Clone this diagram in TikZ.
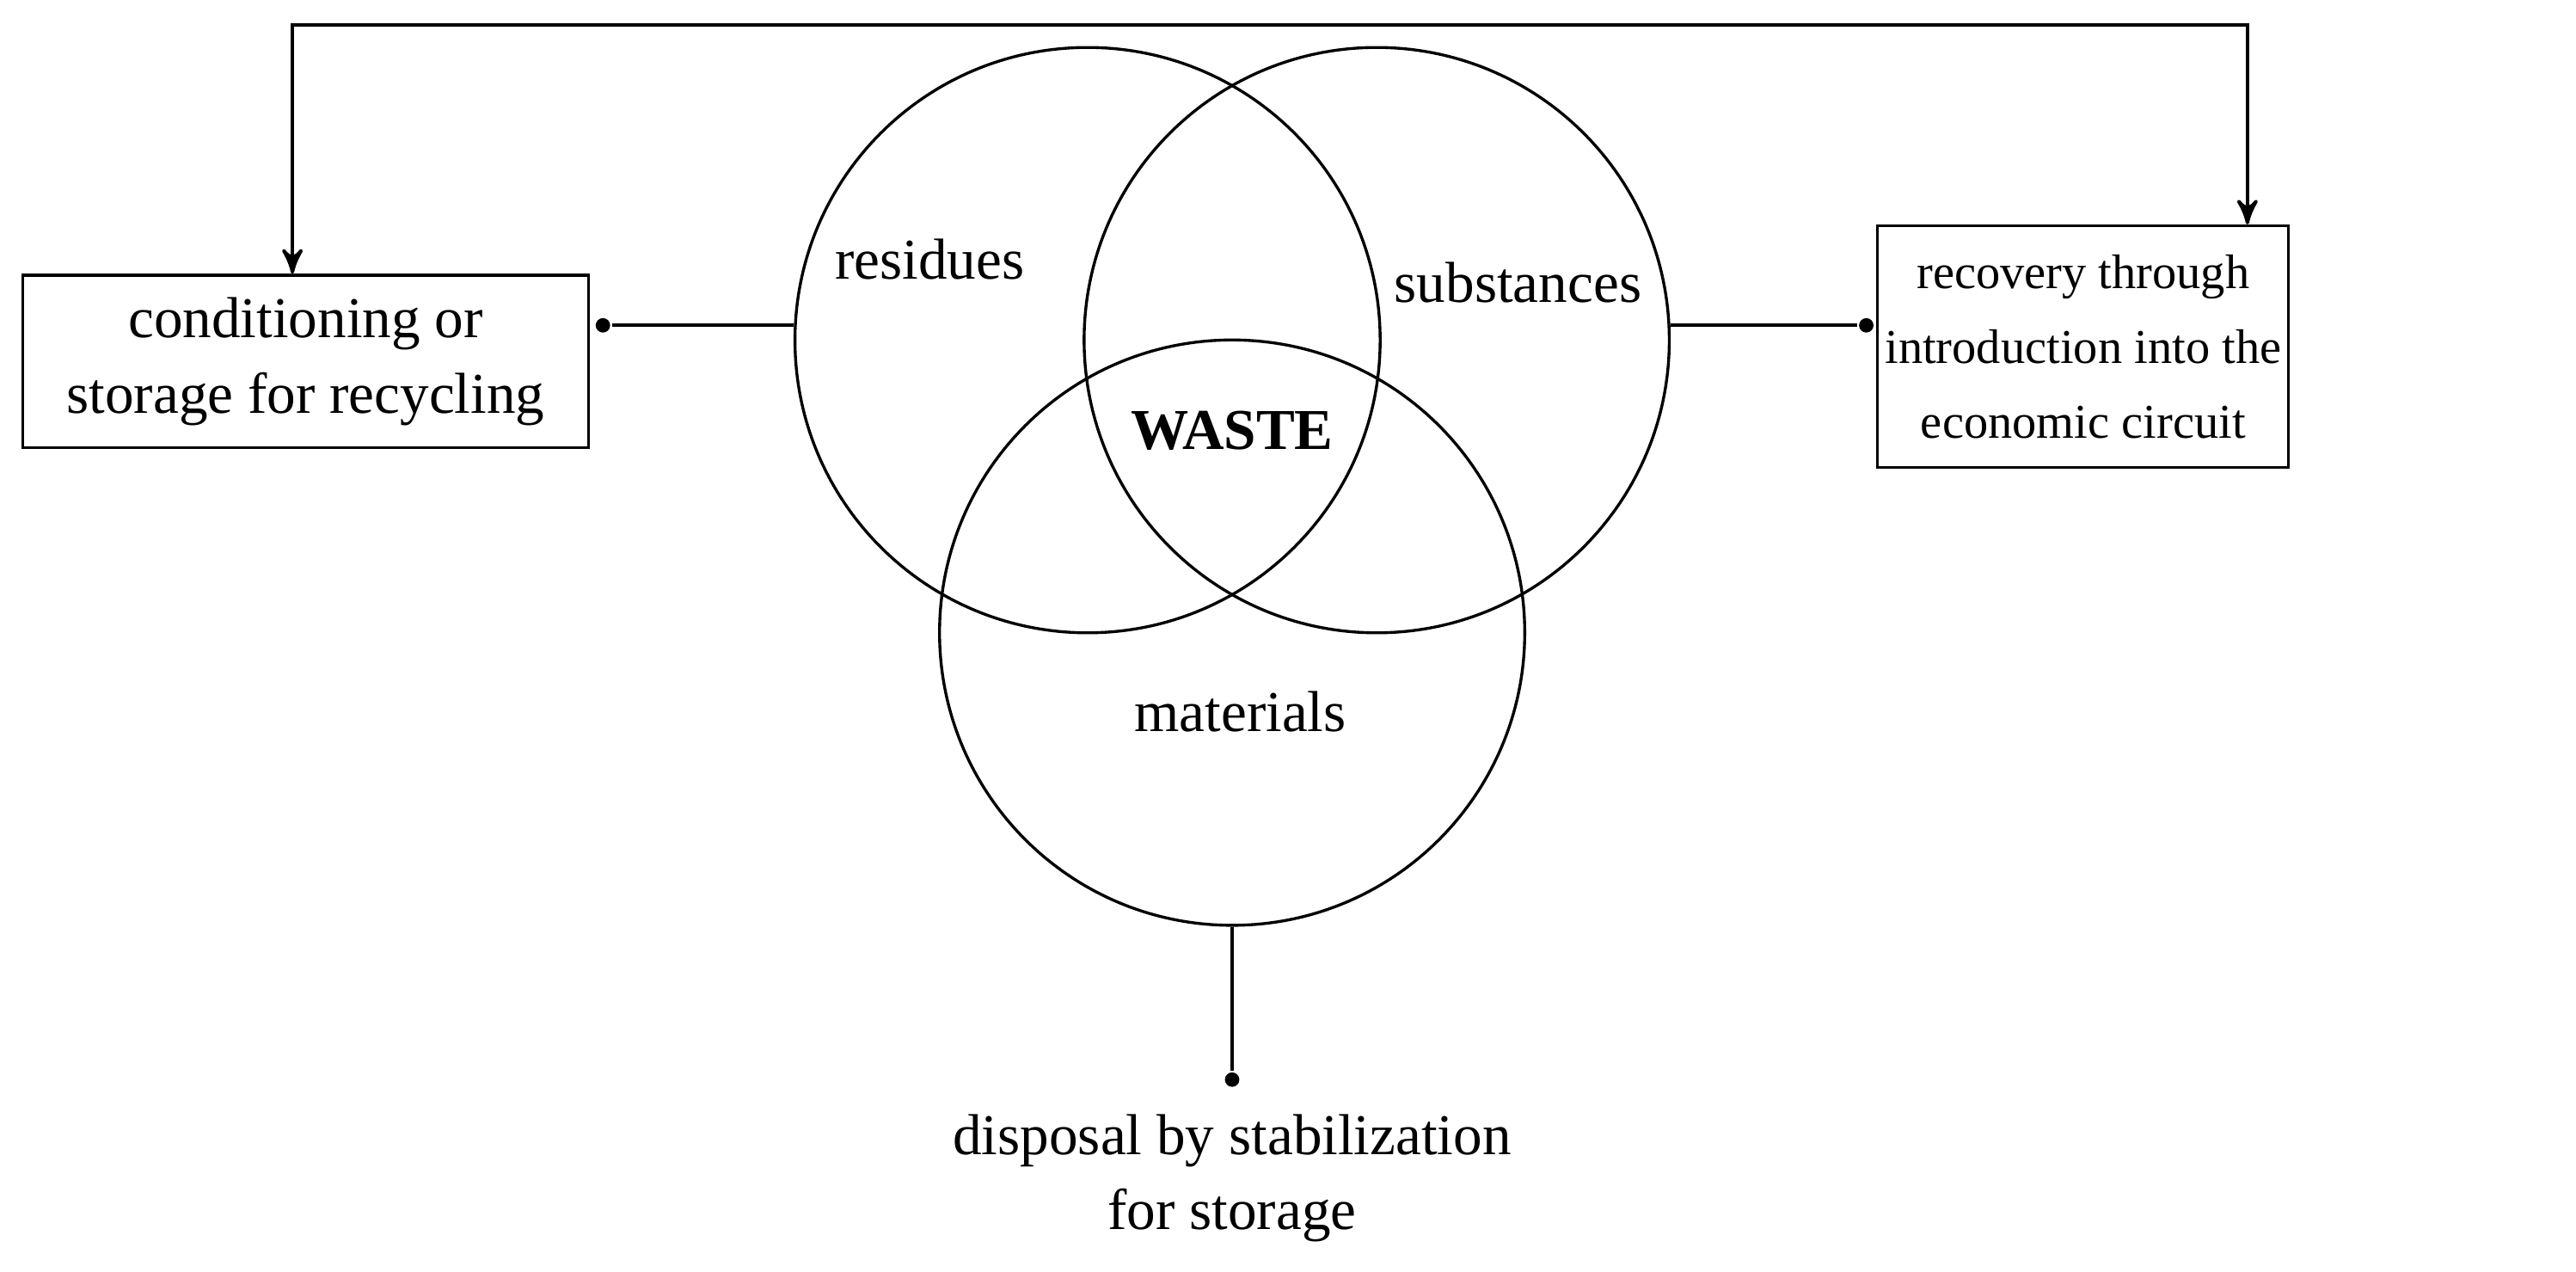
\documentclass[tikz,border=0pt]{standalone}
\usepackage{fontspec}
\setmainfont{Liberation Serif}
\usetikzlibrary{arrows,positioning}
\tikzset{
  ring/.style={draw,circle,minimum size=3.56cm,inner sep=0pt,line width=0.5pt},
  box/.style={draw,rectangle,align=center,line width=0.5pt,inner sep=0pt},
  lbl/.style={align=center,font=\fontsize{10}{13}\selectfont},
  tip/.style={circle,fill,inner sep=0pt,minimum size=2.5pt}
}
\begin{document}
\begin{tikzpicture}[x=0.01cm,y=-0.01cm,font=\fontsize{10}{13}\selectfont,>=stealth',semithick]
  \useasboundingbox (0,0) rectangle (1568,774);
  % circles
  \node[ring] (R) at (662,207) {};
  \node[ring] (S) at (838,207) {};
  \node[ring] (M) at (750,385) {};
  \node[lbl] at (566,158) {residues};
  \node[lbl] at (924,172) {substances};
  \node[lbl] at (750,262) {\textbf{WASTE}};
  \node[lbl] at (755,433) {materials};

  % boxes
  \node[box,minimum width=3.44cm,minimum height=1.05cm] (L) at (186,220)
      {conditioning or\\storage for recycling};
  \node[box,minimum width=2.50cm,minimum height=1.47cm,
        font=\fontsize{8.4}{12.9}\selectfont] (E) at (1268,211)
      {recovery through\\introduction into the\\economic circuit};
  \node[lbl] (D) at (750,717) {disposal by stabilization\\for storage};

  % ends
  \node[tip] (tL) at (367,198) {};
  \node[tip] (tE) at (1136,198) {};
  \node[tip] (tD) at (750,657) {};

  \draw (R.west |- tL) -- (tL);
  \draw (S.east |- tE) -- (tE);
  \draw (M.south) -- (tD);

  % feedback
  \draw[<->] (L.north -| 178,0) -- (178,15) -- (1368,15) -- (E.north -| 1368,0);
\end{tikzpicture}
\end{document}
